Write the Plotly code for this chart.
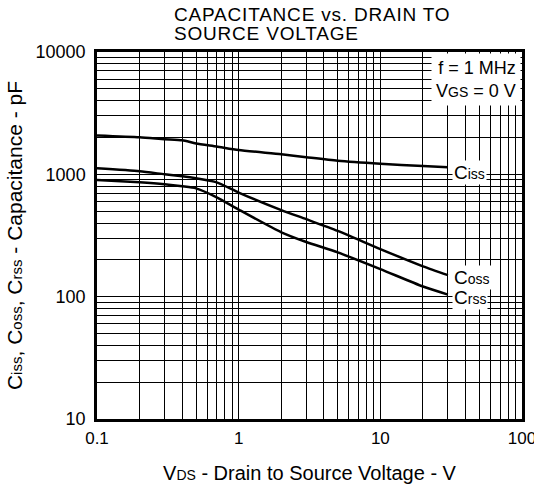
import math
import plotly.graph_objects as go

# Data (VDS in V, capacitance in pF)
vds = [0.1, 0.2, 0.3, 0.4, 0.5, 0.7, 1, 2, 3, 5, 10, 20, 30]
ciss = [2080, 2010, 1940, 1900, 1790, 1690, 1580, 1460, 1380, 1290, 1220, 1170, 1140]
coss = [1120, 1060, 1000, 963, 928, 860, 710, 510, 430, 345, 245, 177, 150]
crss = [900, 860, 829, 798, 768, 649, 515, 336, 280, 230, 168, 121, 104]

x_ticks = [0.1, 1, 10, 100]
x_tick_labels = ["0.1", "1", "10", "100"]
y_ticks = [10, 100, 1000, 10000]
y_tick_labels = ["10", "100", "1000", "10000"]
title_lines = ["CAPACITANCE vs. DRAIN TO", "SOURCE VOLTAGE"]

FONT = "Liberation Sans, Arial, sans-serif"


def sub(t, size=13):
    return "<span style='font-size:%dpx'>%s</span>" % (size, t)


fig = go.Figure()
for y in (ciss, coss, crss):
    fig.add_trace(go.Scatter(x=vds, y=y, mode="lines",
                             line=dict(color="black", width=2.5, shape="spline", smoothing=0.6),
                             showlegend=False, hoverinfo="skip"))

labels = [("C" + sub("iss", 14), ciss[-1], -5), ("C" + sub("oss", 14), coss[-1], -2),
          ("C" + sub("rss", 14), crss[-1], -3)]
for txt, yv, sh in labels:
    fig.add_annotation(x=math.log10(vds[-1]), y=math.log10(yv), xref="x", yref="y", text=txt,
                       showarrow=False, xanchor="left", yanchor="middle", xshift=4, yshift=sh,
                       bgcolor="white", borderpad=1, font=dict(size=19, color="black", family=FONT))

fig.add_annotation(xref="paper", yref="paper", x=1, y=1, xanchor="right", yanchor="top",
                   text="f = 1 MHz<br>V" + sub("GS", 14) + " = 0 V", align="right",
                   showarrow=False, bgcolor="white", borderpad=4, xshift=-1, yshift=-1,
                   font=dict(size=18, color="black", family=FONT))

for line, shift in zip(title_lines, (38, 19)):
    fig.add_annotation(xref="paper", yref="paper", x=(172 - 97) / 425, y=1, xanchor="left", yanchor="middle",
                       text="<span style='letter-spacing:0.8px'>%s</span>" % line,
                       align="left", showarrow=False, yshift=shift,
                       font=dict(size=19, color="black", family=FONT))

common = dict(showgrid=True, gridcolor="black", gridwidth=1, zeroline=False, automargin=False,
              tickcolor="rgba(0,0,0,0)", ticklabeloverflow="allow",
              showline=True, linecolor="black", linewidth=2.5, mirror=True,
              minor=dict(dtick="D1", showgrid=True, gridcolor="black", gridwidth=1, ticks=""))

fig.update_xaxes(type="log", range=[-1, 2], tickvals=x_ticks, ticktext=x_tick_labels,
                 ticks="outside", ticklen=2,
                 tickfont=dict(size=17, color="black", family=FONT),
                 title=dict(text="V" + sub("DS", 14) + " - Drain to Source Voltage - V",
                            font=dict(size=20, color="black", family=FONT), standoff=19),
                 **common)
fig.update_yaxes(type="log", range=[1, 4], tickvals=y_ticks, ticktext=y_tick_labels,
                 ticks="outside", ticklen=5,
                 tickfont=dict(size=18, color="black", family=FONT),
                 title=dict(text="\u00a0" * 6 + "C" + sub("iss", 15) + ", C" + sub("oss", 15) + ", C" + sub("rss", 15)
                                 + " - Capacitance - pF",
                            font=dict(size=21, color="black", family=FONT), standoff=8),
                 **common)

fig.update_layout(
    width=534, height=490,
    margin=dict(l=97, r=12, t=52, b=71),
    paper_bgcolor="white", plot_bgcolor="white",
)

fig.write_html("out.html", config={"displayModeBar": False},
               post_script="document.body.style.margin='0';")
